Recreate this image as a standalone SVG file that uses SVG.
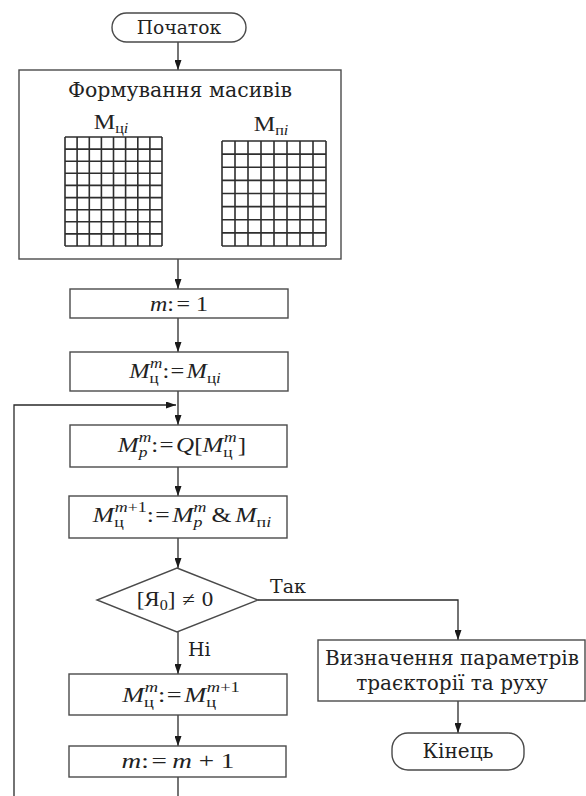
<svg xmlns="http://www.w3.org/2000/svg" width="586" height="796" viewBox="0 0 586 796">
<defs>
<style>
.bg{fill:#ffffff}
.box{fill:#ffffff;stroke:#4a4a4a;stroke-width:1.4}
.ln{fill:none;stroke:#2a2a2a;stroke-width:1.3}
.grid{fill:none;stroke:#2e2e2e;stroke-width:1.6}
.lbl{font-family:"DejaVu Serif","Liberation Serif",serif;font-size:19px;fill:#222}
.math{font-family:"Liberation Serif","DejaVu Serif",serif;font-size:20px;fill:#222}
.it{font-style:italic}
.s{font-size:14px}
</style>
<marker id="arr" viewBox="0 0 10 7" refX="10" refY="3.5" markerWidth="10" markerHeight="7" markerUnits="userSpaceOnUse" orient="auto">
<path d="M0,0 L10,3.5 L0,7 z" fill="#1a1a1a"/>
</marker>
</defs>
<rect class="bg" x="0" y="0" width="586" height="796"/>

<g id="connectors">
<line class="ln" x1="178" y1="42" x2="178" y2="70" marker-end="url(#arr)"/>
<line class="ln" x1="178" y1="259" x2="178" y2="289" marker-end="url(#arr)"/>
<line class="ln" x1="178" y1="318" x2="178" y2="352" marker-end="url(#arr)"/>
<line class="ln" x1="178" y1="391" x2="178" y2="425" marker-end="url(#arr)"/>
<polyline class="ln" points="14,796 14,405 176,405" marker-end="url(#arr)"/>
<line class="ln" x1="178" y1="467" x2="178" y2="496" marker-end="url(#arr)"/>
<line class="ln" x1="178" y1="538" x2="178" y2="568" marker-end="url(#arr)"/>
<polyline class="ln" points="258,600 458,600 458,640" marker-end="url(#arr)"/>
<line class="ln" x1="178" y1="632" x2="178" y2="674" marker-end="url(#arr)"/>
<line class="ln" x1="178" y1="715" x2="178" y2="746" marker-end="url(#arr)"/>
<line class="ln" x1="178" y1="777" x2="178" y2="796"/>
<line class="ln" x1="458" y1="701" x2="458" y2="733" marker-end="url(#arr)"/>
<text class="lbl" x="270" y="593">Так</text>
<text class="lbl" x="188" y="656">Ні</text>
</g>

<g id="start">
<rect class="box" x="112" y="13" width="134" height="29" rx="14.5"/>
<text class="lbl" x="179" y="34" text-anchor="middle" style="font-size:18.7px">Початок</text>
</g>

<g id="arrays">
<rect class="box" x="19" y="70" width="322" height="189"/>
<text class="lbl" x="180" y="97" text-anchor="middle" style="font-size:20.5px">Формування масивів</text>
<text class="math" transform="translate(111,129) scale(1.15,1)" x="0" y="0" text-anchor="middle" style="font-size:21px">M<tspan class="s" dy="4">ц</tspan><tspan class="s it">i</tspan></text>
<text class="math" transform="translate(271,131) scale(1.15,1)" x="0" y="0" text-anchor="middle" style="font-size:21px">M<tspan class="s" dy="4">п</tspan><tspan class="s it">i</tspan></text>
<path class="grid" d="M65,137V246M77.1,137V246M89.3,137V246M101.4,137V246M113.5,137V246M125.6,137V246M137.8,137V246M149.9,137V246M162,137V246M65,137H162M65,149.1H162M65,161.2H162M65,173.3H162M65,185.4H162M65,197.6H162M65,209.7H162M65,221.8H162M65,233.9H162M65,246H162"/>
<path class="grid" d="M222,141V246M235,141V246M248,141V246M261,141V246M274,141V246M287,141V246M300,141V246M313,141V246M326,141V246M222,141H326M222,154.1H326M222,167.3H326M222,180.4H326M222,193.5H326M222,206.6H326M222,219.8H326M222,232.9H326M222,246H326"/>
</g>

<g id="m1">
<rect class="box" x="70" y="289" width="218" height="29"/>
<text class="math" transform="translate(179,311) scale(1.2,1)" x="0" y="0" text-anchor="middle"><tspan class="it">m</tspan>:<tspan dx="2">=</tspan><tspan dx="5">1</tspan></text>
</g>

<g id="init">
<rect class="box" x="70" y="352" width="218" height="39"/>
<text class="math" transform="translate(175,378) scale(1.22,1)" x="0" y="0" text-anchor="middle"><tspan class="it">M</tspan><tspan class="s" dy="5">ц</tspan><tspan class="s it" dx="-7" dy="-15">m</tspan><tspan dy="10">:</tspan><tspan dx="1">=</tspan><tspan class="it" dx="2">M</tspan><tspan class="s" dy="5">ц</tspan><tspan class="s it">i</tspan></text>
</g>

<g id="q">
<rect class="box" x="70" y="425" width="217" height="42"/>
<text class="math" transform="translate(182,452) scale(1.25,1)" x="0" y="0" text-anchor="middle"><tspan class="it">M</tspan><tspan class="s it" dy="5">p</tspan><tspan class="s it" dx="-7" dy="-15">m</tspan><tspan dy="10">:</tspan><tspan dx="1">=</tspan><tspan class="it" dx="2">Q</tspan>[<tspan class="it">M</tspan><tspan class="s" dy="5">ц</tspan><tspan class="s it" dx="-7" dy="-15">m</tspan><tspan dy="10" dx="1">]</tspan></text>
</g>

<g id="and">
<rect class="box" x="69" y="496" width="218" height="42"/>
<text class="math" transform="translate(182,522) scale(1.28,1)" x="0" y="0" text-anchor="middle"><tspan class="it">M</tspan><tspan class="s" dy="5">ц</tspan><tspan class="s" dx="-7" dy="-15"><tspan class="it">m</tspan>+1</tspan><tspan dy="10">:</tspan><tspan dx="1">=</tspan><tspan class="it" dx="2">M</tspan><tspan class="s it" dy="5">p</tspan><tspan class="s it" dx="-7" dy="-15">m</tspan><tspan dy="10" dx="4">&amp;</tspan><tspan class="it" dx="3">M</tspan><tspan class="s" dy="5">п</tspan><tspan class="s it">i</tspan></text>
</g>

<g id="decision">
<polygon class="box" points="177,568 258,600 177,632 97,600"/>
<text class="math" transform="translate(175,606) scale(1.15,1)" x="0" y="0" text-anchor="middle">[Я<tspan class="s" dy="4">0</tspan><tspan dy="-4">]</tspan><tspan dx="6">≠</tspan><tspan dx="6">0</tspan></text>
</g>

<g id="shift">
<rect class="box" x="69" y="674" width="218" height="41"/>
<text class="math" transform="translate(181,702) scale(1.32,1)" x="0" y="0" text-anchor="middle"><tspan class="it">M</tspan><tspan class="s" dy="5">ц</tspan><tspan class="s it" dx="-7" dy="-15">m</tspan><tspan dy="10">:</tspan><tspan dx="1">=</tspan><tspan class="it" dx="2">M</tspan><tspan class="s" dy="5">ц</tspan><tspan class="s" dx="-7" dy="-15"><tspan class="it">m</tspan>+1</tspan></text>
</g>

<g id="inc">
<rect class="box" x="69" y="746" width="217" height="31"/>
<text class="math" transform="translate(178,768) scale(1.36,1)" x="0" y="0" text-anchor="middle"><tspan class="it">m</tspan>:<tspan dx="2">=</tspan><tspan class="it" dx="4">m</tspan><tspan dx="5">+</tspan><tspan dx="5">1</tspan></text>
</g>

<g id="params">
<rect class="box" x="318" y="640" width="267" height="61"/>
<text class="lbl" x="452" y="665" text-anchor="middle" style="font-size:20px">Визначення параметрів</text>
<text class="lbl" x="452" y="690" text-anchor="middle" style="font-size:20px">траєкторії та руху</text>
</g>

<g id="end">
<rect class="box" x="392" y="733" width="132" height="37" rx="16"/>
<text class="lbl" x="458" y="758" text-anchor="middle" style="font-size:20px">Кінець</text>
</g>
</svg>
